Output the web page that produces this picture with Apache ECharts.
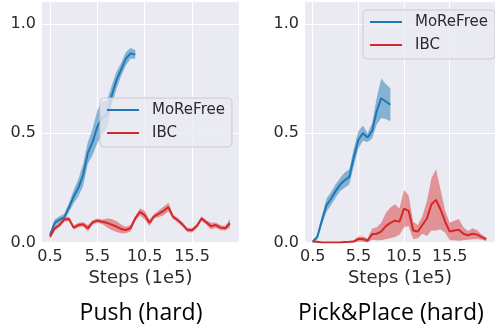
<!DOCTYPE html>
<html>
<head>
<meta charset="utf-8">
<script src="https://cdn.jsdelivr.net/npm/echarts@6/dist/echarts.min.js"></script>
<style>
  html, body { margin: 0; padding: 0; background: #fff; }
  #chart { width: 495px; height: 330px; }
</style>
</head>
<body>
<div id="chart"></div>
<script>
// training steps (1e5)
const steps = [0.5, 1, 1.5, 2, 2.5, 3, 3.5, 4, 4.5, 5, 5.5, 6, 6.5, 7, 7.5, 8, 8.5, 9, 9.5, 10,
  10.5, 11, 11.5, 12, 12.5, 13, 13.5, 14, 14.5, 15, 15.5, 16, 16.5, 17, 17.5, 18, 18.5, 19, 19.5];
const xTicks = [0.5, 5.5, 10.5, 15.5];
const yTicks = [0, 0.5, 1.0];

// Push (hard)
const pushMoReFree = [0.035, 0.09, 0.105, 0.115, 0.16, 0.21, 0.25, 0.31, 0.41, 0.46, 0.53, 0.57, 0.585,
  0.67, 0.74, 0.79, 0.84, 0.865, 0.86];
const pushMoReFreeStd = [0.01, 0.015, 0.015, 0.015, 0.02, 0.03, 0.04, 0.05, 0.05, 0.06, 0.075, 0.075, 0.065,
  0.045, 0.04, 0.03, 0.03, 0.025, 0.02];
const pushIBC = [0.026, 0.065, 0.08, 0.105, 0.108, 0.068, 0.08, 0.083, 0.065, 0.092, 0.10, 0.095, 0.09,
  0.082, 0.073, 0.062, 0.057, 0.065, 0.11, 0.14, 0.125, 0.09, 0.12, 0.132, 0.145, 0.162, 0.117, 0.102,
  0.082, 0.058, 0.056, 0.075, 0.11, 0.092, 0.075, 0.08, 0.068, 0.065, 0.088];
const pushIBCStd = [0.01, 0.01, 0.01, 0.01, 0.01, 0.01, 0.01, 0.01, 0.015, 0.01, 0.01, 0.01, 0.02,
  0.025, 0.025, 0.02, 0.015, 0.015, 0.01, 0.015, 0.02, 0.015, 0.01, 0.015, 0.02, 0.02, 0.01, 0.01,
  0.01, 0.01, 0.01, 0.01, 0.01, 0.01, 0.015, 0.012, 0.012, 0.01, 0.02];

// Pick&Place (hard)
const pickMoReFree = [0.005, 0.025, 0.10, 0.17, 0.20, 0.235, 0.265, 0.285, 0.30, 0.39, 0.47, 0.50, 0.48,
  0.51, 0.60, 0.66, 0.645, 0.63];
const pickMoReFreeStd = [0.003, 0.01, 0.02, 0.03, 0.03, 0.03, 0.03, 0.035, 0.035, 0.04, 0.04, 0.035, 0.02,
  0.035, 0.06, 0.09, 0.08, 0.075];
const pickIBC = [0.005, 0.003, 0, 0, 0, 0, 0, 0.002, 0.003, 0.005, 0.016, 0.016, 0.008, 0.038, 0.04, 0.05,
  0.075, 0.09, 0.10, 0.095, 0.155, 0.145, 0.055, 0.05, 0.08, 0.11, 0.175, 0.195, 0.15, 0.095, 0.05,
  0.055, 0.058, 0.04, 0.033, 0.04, 0.036, 0.025, 0.015];
const pickIBCStd = [0.005, 0.003, 0.001, 0.001, 0.001, 0.001, 0.001, 0.002, 0.003, 0.005, 0.012, 0.012,
  0.01, 0.025, 0.03, 0.04, 0.06, 0.07, 0.075, 0.06, 0.085, 0.07, 0.04, 0.03, 0.04, 0.08, 0.12, 0.14,
  0.09, 0.05, 0.04, 0.045, 0.05, 0.03, 0.02, 0.025, 0.02, 0.012, 0.008];

const BLUE = "#1f77b4";
const RED = "#d62728";
const TXT = "#2b2b2b";

// mean line + shaded std band (custom polygon through the axis scales)
function curve(name, mean, std, color, fill, idx) {
  const rows = mean.map((v, i) => [steps[i], Math.max(0, v - std[i]), v + std[i]]);
  return [
    {
      type: "custom", xAxisIndex: idx, yAxisIndex: idx, silent: true, z: 1,
      encode: { x: 0, y: [1, 2] },
      data: rows,
      renderItem(params, api) {
        if (params.dataIndex !== 0) return null;
        const top = rows.map(r => api.coord([r[0], r[2]]));
        const bot = rows.map(r => api.coord([r[0], r[1]])).reverse();
        return { type: "polygon", shape: { points: top.concat(bot) }, style: { fill } };
      }
    },
    {
      type: "line", name, color, xAxisIndex: idx, yAxisIndex: idx, z: 3,
      showSymbol: false, symbol: "none", silent: true,
      lineStyle: { color, width: 2 },
      data: rows.map((r, i) => [r[0], mean[i]])
    }
  ];
}

function xAxis(idx) {
  return {
    type: "value", gridIndex: idx, min: -0.345, max: 20.455,
    name: "Steps (1e5)", nameLocation: "middle", nameGap: 19,
    nameTextStyle: { fontFamily: "DejaVu Sans", fontSize: 18, color: TXT },
    axisLine: { show: false }, axisTick: { show: false, customValues: xTicks },
    axisLabel: { customValues: xTicks, fontFamily: "DejaVu Sans", fontSize: 16, color: TXT, margin: 6,
      formatter: v => v.toFixed(1) },
    splitLine: { show: true, lineStyle: { color: "#fff", width: 1 } }
  };
}

function yAxis(idx) {
  return {
    type: "value", gridIndex: idx, min: 0, max: 1.1,
    axisLine: { show: false }, axisTick: { show: false, customValues: yTicks },
    axisLabel: { customValues: yTicks, fontFamily: "DejaVu Sans", fontSize: 16, color: TXT, margin: 6,
      formatter: v => v.toFixed(1) },
    splitLine: { show: true, lineStyle: { color: "#fff", width: 1 } }
  };
}

function legend(left, top) {
  return {
    data: ["MoReFree", "IBC"], orient: "vertical", left, top,
    icon: "rect", itemWidth: 32, itemHeight: 2, itemGap: 7,
    padding: [4, 7, 6, 7],
    backgroundColor: "rgba(234,234,242,0.8)", borderColor: "#cccccc", borderWidth: 1, borderRadius: 4,
    textStyle: { fontFamily: "DejaVu Sans", fontSize: 15, color: TXT, lineHeight: 16, padding: [0, 0, 0, 8] },
    selectedMode: false
  };
}

const chart = echarts.init(document.getElementById("chart"), null, { renderer: "canvas" });
chart.setOption({
  animation: false,
  grid: [
    { left: 42, top: 2, width: 197, height: 240.5, show: true, backgroundColor: "#eaeaf2", borderWidth: 0 },
    { left: 305, top: 2, width: 197, height: 240.5, show: true, backgroundColor: "#eaeaf2", borderWidth: 0 }
  ],
  xAxis: [xAxis(0), xAxis(1)],
  yAxis: [yAxis(0), yAxis(1)],
  legend: [legend(100, 98), legend(363, 10)],
  series: [].concat(
    curve("MoReFree", pushMoReFree, pushMoReFreeStd, BLUE, "rgba(31,119,180,0.5)", 0),
    curve("IBC", pushIBC, pushIBCStd, RED, "rgba(214,39,40,0.45)", 0),
    curve("MoReFree", pickMoReFree, pickMoReFreeStd, BLUE, "rgba(31,119,180,0.5)", 1),
    curve("IBC", pickIBC, pickIBCStd, RED, "rgba(214,39,40,0.45)", 1)
  ),
  graphic: [
    { type: "text", x: 141, y: 313, style: { text: "Push (hard)", fontFamily: "Open Sans", fontSize: 23,
      fill: "#000", align: "center", verticalAlign: "middle" } },
    { type: "text", x: 391, y: 313, style: { text: "Pick&Place (hard)", fontFamily: "Open Sans", fontSize: 23,
      fill: "#000", align: "center", verticalAlign: "middle" } }
  ]
});
</script>
</body>
</html>
